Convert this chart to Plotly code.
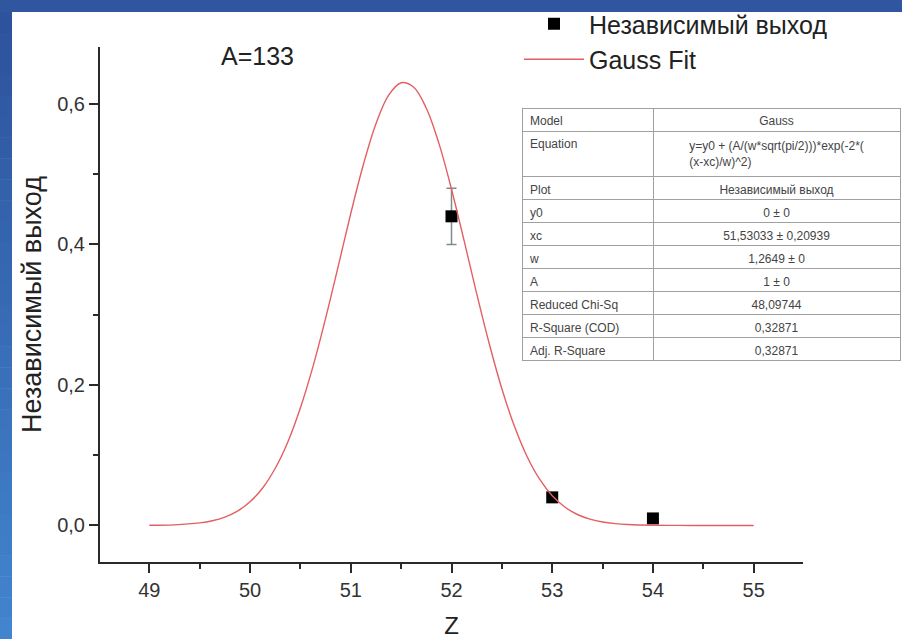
import plotly.graph_objects as go

# ---- data ----
z_points = [52, 53, 54]
yield_points = [0.44, 0.04, 0.01]
yield_err = [0.04, 0, 0]

fit_x = [49.0, 49.25, 49.5, 49.625, 49.75, 49.875, 50.0, 50.125, 50.25, 50.375,
         50.5, 50.625, 50.75, 50.875, 51.0, 51.125, 51.25, 51.375, 51.5, 51.625,
         51.75, 51.875, 52.0, 52.125, 52.25, 52.375, 52.5, 52.625, 52.75, 52.875,
         53.0, 53.125, 53.25, 53.375, 53.5, 53.625, 53.75, 54.0, 54.25, 54.5,
         54.75, 55.0]
fit_y = [0.0002, 0.0009, 0.0037, 0.0067, 0.0120, 0.0205, 0.0338, 0.0534, 0.0814,
         0.1189, 0.1675, 0.2265, 0.2948, 0.3688, 0.4440, 0.5137, 0.5719, 0.6121,
         0.6301, 0.6238, 0.5938, 0.5438, 0.4786, 0.4054, 0.3300, 0.2586, 0.1946,
         0.1411, 0.0982, 0.0658, 0.0423, 0.0263, 0.0156, 0.0090, 0.0049, 0.0026,
         0.0013, 0.0003, 0.0001, 0.0, 0.0, 0.0]

table_params = ["Model", "Equation", "Plot", "y0", "xc", "w", "A",
                "Reduced Chi-Sq", "R-Square (COD)", "Adj. R-Square"]
table_values = ["Gauss", "y=y0 + (A/(w*sqrt(pi/2)))*exp(-2*(<br>(x-xc)/w)^2)",
                "Независимый выход", "0 ± 0", "51,53033 ± 0,20939", "1,2649 ± 0",
                "1 ± 0", "48,09744", "0,32871", "0,32871"]

FONT = "Liberation Sans, Arial, sans-serif"
W, H = 902, 639
ML, MR, MT, MB = 100, 0, 12, 77
PW, PH = W - ML - MR, H - MT - MB

def px_x(p):
    return (p - ML) / PW

def px_y(p):
    return (H - MB - p) / PH

fig = go.Figure()

fig.add_trace(go.Scatter(
    x=z_points, y=yield_points, mode="markers", name="Независимый выход",
    marker=dict(symbol="square", size=12, color="black"),
    error_y=dict(type="data", array=yield_err, color="#7f8c8c", thickness=1.5, width=5),
))
fig.add_trace(go.Scatter(
    x=fit_x, y=fit_y, mode="lines", name="Gauss Fit",
    line=dict(color="#e35f63", width=1.4, shape="spline"),
))

fig.add_trace(go.Table(
    domain=dict(x=[px_x(522), px_x(900)], y=[px_y(364), px_y(108)]),
    columnwidth=[131, 247],
    header=dict(values=[table_params[0], table_values[0]],
                align=["left", "center"], height=23,
                fill_color="white", line_color="#a0a0a0",
                font=dict(family=FONT, size=12, color="#444")),
    cells=dict(values=[table_params[1:], table_values[1:]],
               align=["left", "center"], height=23,
               fill_color="white", line_color="#a0a0a0",
               font=dict(family=FONT, size=12, color="#444")),
))

# background frame (blue border)
shapes = []
top_col = "#2f569f"
shapes.append(dict(type="rect", xref="paper", yref="paper",
                   x0=px_x(0), x1=px_x(W), y0=px_y(12), y1=px_y(0),
                   fillcolor=top_col, line_width=0, layer="below"))
n = 30
c0 = (0x2d, 0x53, 0x9c)
c1 = (0x42, 0x84, 0xce)
for i in range(n):
    t = i / (n - 1)
    c = tuple(int(round(c0[k] + (c1[k] - c0[k]) * t)) for k in range(3))
    ya = 12 + (H - 12) * i / n
    yb = 12 + (H - 12) * (i + 1) / n
    shapes.append(dict(type="rect", xref="paper", yref="paper",
                       x0=px_x(0), x1=px_x(12), y0=px_y(yb + 0.5), y1=px_y(ya),
                       fillcolor="rgb(%d,%d,%d)" % c, line_width=0, layer="below"))

axis_common = dict(
    showline=True, linecolor="#2a2a2a", linewidth=2, mirror=False,
    ticks="outside", ticklen=9, tickwidth=2, tickcolor="#2a2a2a",
    showgrid=False, zeroline=False,
    tickfont=dict(family=FONT, size=20, color="#333"),
)

fig.update_layout(
    width=W, height=H,
    margin=dict(l=ML, r=MR, t=MT, b=MB),
    paper_bgcolor="white", plot_bgcolor="white",
    separators=",.",
    font=dict(family=FONT, color="#222"),
    xaxis=dict(**axis_common, domain=[0, px_x(803)], range=[48.51, 55.49],
               tick0=49, dtick=1,
               minor=dict(dtick=0.5, ticklen=5, tickwidth=2, tickcolor="#2a2a2a", ticks="outside"),
               title=dict(text="Z", font=dict(family=FONT, size=24, color="#222"), standoff=18)),
    yaxis=dict(**axis_common, domain=[0, px_y(47)], range=[-0.052, 0.681],
               tick0=0, dtick=0.2, tickformat=".1f",
               minor=dict(dtick=0.1, ticklen=5, tickwidth=2, tickcolor="#2a2a2a", ticks="outside"),
               title=dict(text="Независимый выход", font=dict(family=FONT, size=27, color="#222"),
                          standoff=8)),
    legend=dict(x=px_x(519), y=px_y(1), xanchor="left", yanchor="top",
                bgcolor="rgba(0,0,0,0)", font=dict(family=FONT, size=25, color="#222"),
                itemwidth=60, tracegroupgap=0),
    shapes=shapes,
    annotations=[dict(text="A=133", xref="paper", yref="paper",
                      x=px_x(257), y=px_y(56), xanchor="center", yanchor="middle",
                      showarrow=False,
                      font=dict(family=FONT, size=25, color="#222"))],
)

fig.write_html("out.html")
